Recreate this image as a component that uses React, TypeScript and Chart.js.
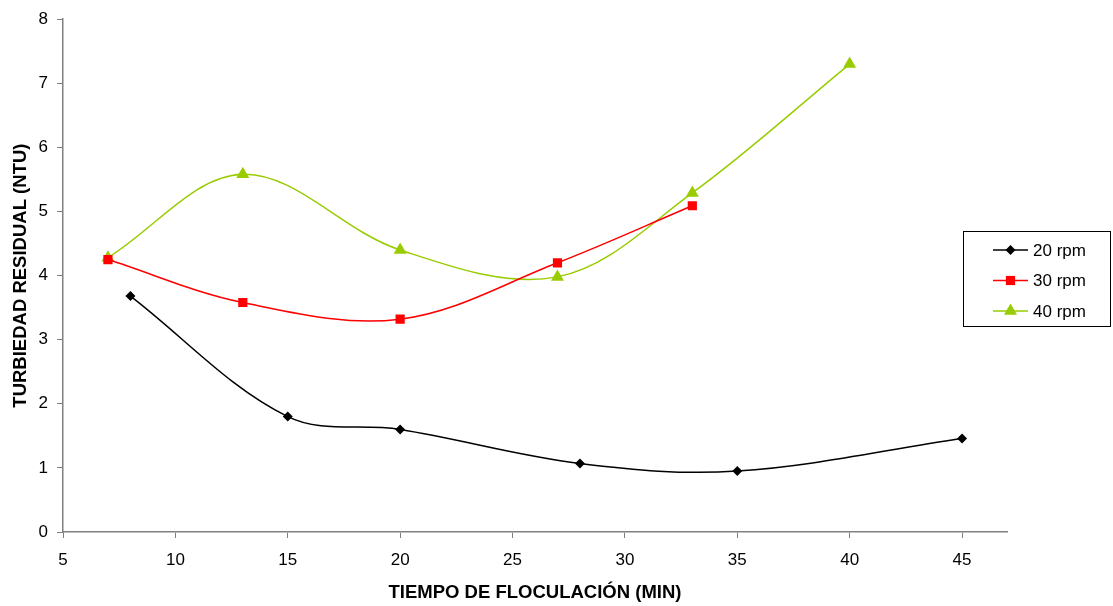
import React, { useEffect, useRef } from "react";
import { Chart, registerables } from "chart.js";

Chart.register(...registerables);

const seriesNames = ["20 rpm", "30 rpm", "40 rpm"];
const x20 = [8, 15, 20, 28, 35, 45];
const y20 = [3.68, 1.8, 1.6, 1.07, 0.95, 1.46];
const x30 = [7, 13, 20, 27, 33];
const y30 = [4.25, 3.58, 3.32, 4.2, 5.09];
const x40 = [7, 13, 20, 27, 33, 40];
const y40 = [4.28, 5.58, 4.4, 3.98, 5.29, 7.3];
const xTicks = [5, 10, 15, 20, 25, 30, 35, 40, 45];
const xTitle = "TIEMPO DE FLOCULACIÓN (MIN)";
const yTitle = "TURBIEDAD RESIDUAL (NTU)";

const FONT = "'Liberation Sans', Arial, sans-serif";
const AXIS = "#808080";

const toPts = (xs: number[], ys: number[]) => xs.map((x, i) => ({ x, y: ys[i] }));

function drawMarker(ctx: CanvasRenderingContext2D, style: string, r: number, x: number, y: number) {
  ctx.beginPath();
  if (style === "rectRot") {
    ctx.moveTo(x, y - r);
    ctx.lineTo(x + r, y);
    ctx.lineTo(x, y + r);
    ctx.lineTo(x - r, y);
  } else if (style === "rect") {
    const s = r * Math.SQRT1_2;
    ctx.rect(x - s, y - s, 2 * s, 2 * s);
  } else {
    ctx.moveTo(x, y - r);
    ctx.lineTo(x + r * 0.866, y + r * 0.5);
    ctx.lineTo(x - r * 0.866, y + r * 0.5);
  }
  ctx.closePath();
  ctx.fill();
}

const legendPlugin = {
  id: "boxLegend",
  afterDraw(chart: any) {
    const ctx = chart.ctx;
    const bx = 963.5, by = 231.5, bw = 147, bh = 95;
    ctx.save();
    ctx.fillStyle = "#fff";
    ctx.fillRect(bx, by, bw, bh);
    ctx.strokeStyle = "#000";
    ctx.lineWidth = 1;
    ctx.strokeRect(bx, by, bw, bh);
    chart.data.datasets.forEach((ds: any, i: number) => {
      const y = 250 + i * 30.5;
      ctx.strokeStyle = ds.borderColor;
      ctx.lineWidth = 1.5;
      ctx.beginPath();
      ctx.moveTo(993, y);
      ctx.lineTo(1028, y);
      ctx.stroke();
      ctx.fillStyle = ds.pointBackgroundColor;
      drawMarker(ctx, ds.pointStyle, ds.pointRadius, 1010.5, y);
      ctx.fillStyle = "#000";
      ctx.font = `17px ${FONT}`;
      ctx.textBaseline = "middle";
      ctx.textAlign = "left";
      ctx.fillText(ds.label, 1033, y + 1);
    });
    ctx.restore();
  },
};

export default function App() {
  const ref = useRef<HTMLCanvasElement>(null);
  useEffect(() => {
    document.body.style.margin = "0";
    const common = {
      showLine: true,
      pointBorderWidth: 0,
      borderWidth: 1.5,
      tension: 0.35,
    };
    const chart = new Chart(ref.current!, {
      type: "scatter",
      data: {
        datasets: [
          {
            ...common,
            label: seriesNames[0],
            data: toPts(x20, y20),
            borderColor: "#000000",
            backgroundColor: "#000000",
            pointBackgroundColor: "#000000",
            pointBorderColor: "#000000",
            pointStyle: "rectRot",
            pointRadius: 5,
          },
          {
            ...common,
            label: seriesNames[1],
            data: toPts(x30, y30),
            borderColor: "#FF0000",
            backgroundColor: "#FF0000",
            pointBackgroundColor: "#FF0000",
            pointBorderColor: "#FF0000",
            pointStyle: "rect",
            pointRadius: 6.5,
          },
          {
            ...common,
            label: seriesNames[2],
            data: toPts(x40, y40),
            borderColor: "#99CC00",
            backgroundColor: "#99CC00",
            pointBackgroundColor: "#99CC00",
            pointBorderColor: "#99CC00",
            pointStyle: "triangle",
            pointRadius: 7.5,
          },
        ],
      } as any,
      options: {
        animation: false,
        responsive: false,
        maintainAspectRatio: false,
        layout: { padding: { left: 0, top: 19, right: 106, bottom: 0 } },
        plugins: { legend: { display: false }, tooltip: { enabled: false } },
        scales: {
          x: {
            type: "linear",
            min: 5,
            max: 47,
            afterBuildTicks: (axis: any) => {
              axis.ticks = xTicks.map((v) => ({ value: v }));
            },
            afterFit: (axis: any) => {
              axis.height = 74;
            },
            grid: {
              display: true,
              drawOnChartArea: false,
              drawTicks: true,
              tickLength: 6,
              color: AXIS,
            },
            border: { display: true, color: AXIS, width: 1.5 },
            ticks: {
              color: "#000",
              font: { family: FONT, size: 17 },
              padding: 12,
              maxRotation: 0,
              autoSkip: false,
            },
            title: {
              display: true,
              text: xTitle,
              color: "#000",
              font: { family: FONT, size: 18.5, weight: "bold" },
              padding: { top: 4, bottom: 2 },
            },
          },
          y: {
            type: "linear",
            min: 0,
            max: 8,
            afterFit: (axis: any) => {
              axis.width = 63;
            },
            grid: {
              display: true,
              drawOnChartArea: false,
              drawTicks: true,
              tickLength: 6,
              color: AXIS,
            },
            border: { display: true, color: AXIS, width: 1.5 },
            ticks: {
              stepSize: 1,
              color: "#000",
              font: { family: FONT, size: 17 },
              padding: 9,
            },
            title: {
              display: true,
              text: yTitle,
              color: "#000",
              font: { family: FONT, size: 18.5, weight: "bold" },
              padding: { top: 10, bottom: 4 },
            },
          },
        },
      } as any,
      plugins: [legendPlugin],
    });
    return () => chart.destroy();
  }, []);
  return (
    <div style={{ width: 1113, height: 606, background: "#fff" }}>
      <canvas ref={ref} width={1113} height={606} style={{ display: "block" }} />
    </div>
  );
}
